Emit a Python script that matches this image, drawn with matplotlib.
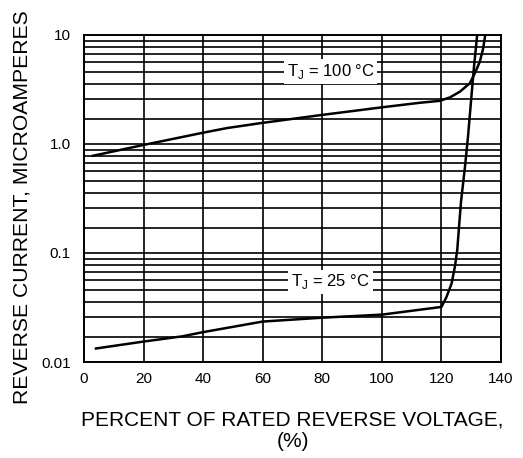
import matplotlib
matplotlib.use("Agg")
import matplotlib.pyplot as plt
import numpy as np

plt.rcParams['font.family'] = ['Liberation Sans', 'DejaVu Sans']

# Data
x_100 = [3, 20, 40, 48, 59, 80, 100, 112.8, 119.5, 122.9, 126.2, 129.5, 131.2, 132.9, 134.0, 134.7]
y_100 = [0.78, 0.98, 1.27, 1.40, 1.55, 1.85, 2.17, 2.39, 2.49, 2.68, 3.02, 3.6, 4.45, 5.7, 7.5, 10.0]

x_25 = [4, 20, 33, 40, 60, 80, 100, 120, 121.7, 123.4, 124.5, 125.3, 125.9, 126.6, 127.9, 128.9, 130.0, 130.9, 132.0]
y_25 = [0.0133, 0.0154, 0.0172, 0.0188, 0.0235, 0.0255, 0.0272, 0.032, 0.0395, 0.0524, 0.0744, 0.106, 0.173, 0.30, 0.615, 1.15, 2.6, 5.0, 10.0]

x_ticks = [0, 20, 40, 60, 80, 100, 120, 140]
y_ticks = [0.01, 0.1, 1.0, 10]
y_tick_labels = ["0.01", "0.1", "1.0", "10"]
minor_mult = [1.69, 2.59, 3.53, 4.62, 5.68, 6.76, 7.76, 8.83]

fig = plt.figure(figsize=(5.23, 4.58), dpi=100)
ax = fig.add_axes([84/523, 1-362/458, (501-84)/523, (362-35)/458])
ax.set_xlim(0, 140)
ax.set_yscale('log')
ax.set_ylim(0.01, 10)

minor = [m * d for d in (0.01, 0.1, 1.0) for m in minor_mult]
ax.set_xticks(x_ticks)
ax.set_yticks(y_ticks)
ax.set_yticklabels(y_tick_labels)
ax.set_yticks(minor, minor=True)
ax.tick_params(which='both', length=0, labelsize=11)
ax.tick_params(axis='x', pad=7)
ax.tick_params(axis='y', pad=9.5)
ax.grid(True, which='both', axis='y', color='black', lw=1.2)
ax.grid(True, which='major', axis='x', color='black', lw=1.2)
for s in ax.spines.values():
    s.set_linewidth(1.4)
ax.set_axisbelow(True)

ax.plot(x_100, y_100, color='black', lw=1.8, zorder=3)
ax.plot(x_25, y_25, color='black', lw=1.8, zorder=3)

ax.text(82.8, 4.6, r"T$_\mathregular{J}$ = 100 °C", ha='center', va='center', fontsize=12,
        bbox=dict(facecolor='white', edgecolor='none', pad=2), zorder=4)
ax.text(82.8, 0.0542, r"T$_\mathregular{J}$ = 25 °C", ha='center', va='center', fontsize=12,
        bbox=dict(facecolor='white', edgecolor='none', pad=2), zorder=4)

ax.set_xlabel("PERCENT OF RATED REVERSE VOLTAGE,\n(%)", fontsize=15, labelpad=18, linespacing=1.15)
ax.set_ylabel("REVERSE CURRENT, MICROAMPERES", fontsize=15.2)
ax.yaxis.set_label_coords(-0.125, (362 - 207) / 327)

fig.savefig("out.png", dpi=100)
